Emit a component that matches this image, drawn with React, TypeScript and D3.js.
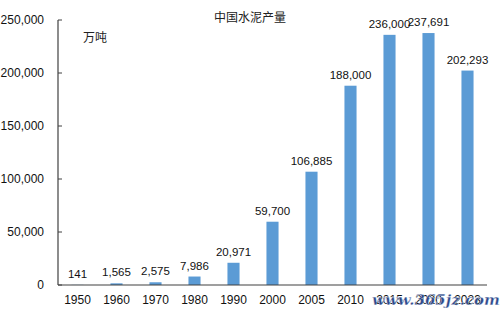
import React from "react";
import * as d3 from "d3";

const categories = ["1950", "1960", "1970", "1980", "1990", "2000", "2005", "2010", "2015", "2020", "2023"];
const values = [141, 1565, 2575, 7986, 20971, 59700, 106885, 188000, 236000, 237691, 202293];
const yTicks = [0, 50000, 100000, 150000, 200000, 250000];

const W = 500, H = 316;
const m = { left: 58, right: 13, top: 20, bottom: 31 };

export default function App() {
  const x = d3.scaleBand<string>().domain(categories).range([m.left, W - m.right]).paddingInner(0.69).paddingOuter(0.345);
  const y = d3.scaleLinear().domain([0, 250000]).range([H - m.bottom, m.top]);
  const fmt = d3.format(",");
  const font = "'Liberation Sans', Arial, sans-serif";
  return (
    <svg width={W} height={H} style={{ position: "absolute", left: 0, top: 0, background: "#fff" }}>
      {yTicks.map((t) => (
        <g key={t}>
          <line x1={m.left} x2={m.left + 4} y1={y(t)} y2={y(t)} stroke="#404040" strokeWidth={1} />
          <text x={44} y={y(t)} dy="0.35em" textAnchor="end" fontFamily={font} fontSize={12} fill="#111">{fmt(t)}</text>
        </g>
      ))}
      {values.map((v, i) => {
        const c = categories[i];
        const bx = x(c)!;
        return (
          <g key={c}>
            <rect x={bx} y={y(v)} width={x.bandwidth()} height={y(0) - y(v)} fill="#5B9BD5" />
            <text x={bx + x.bandwidth() / 2} y={y(v) - 7} textAnchor="middle" fontFamily={font} fontSize={11.5} fill="#111">{fmt(v)}</text>
            <text x={bx + x.bandwidth() / 2} y={H - m.bottom + 19} textAnchor="middle" fontFamily={font} fontSize={12} fill="#111">{c}</text>
          </g>
        );
      })}
      <line x1={m.left} x2={m.left} y1={m.top} y2={y(0)} stroke="#404040" strokeWidth={1.2} />
      <line x1={m.left} x2={W - m.right} y1={y(0)} y2={y(0)} stroke="#404040" strokeWidth={1.2} />
      <text x={250} y={22} textAnchor="middle" fontFamily="'Noto Sans CJK SC', sans-serif" fontSize={12} fill="#222">中国水泥产量</text>
      <text x={83} y={42} fontFamily="'Noto Sans CJK SC', sans-serif" fontSize={12} fill="#222">万吨</text>
      <text x={436} y={305} textAnchor="middle" fontFamily="'DejaVu Serif', serif" fontWeight="bold" fontStyle="italic" fontSize={15} fill="#2d4a8c" stroke="#fff" strokeWidth={0.3}>www.365jz.com</text>
    </svg>
  );
}
